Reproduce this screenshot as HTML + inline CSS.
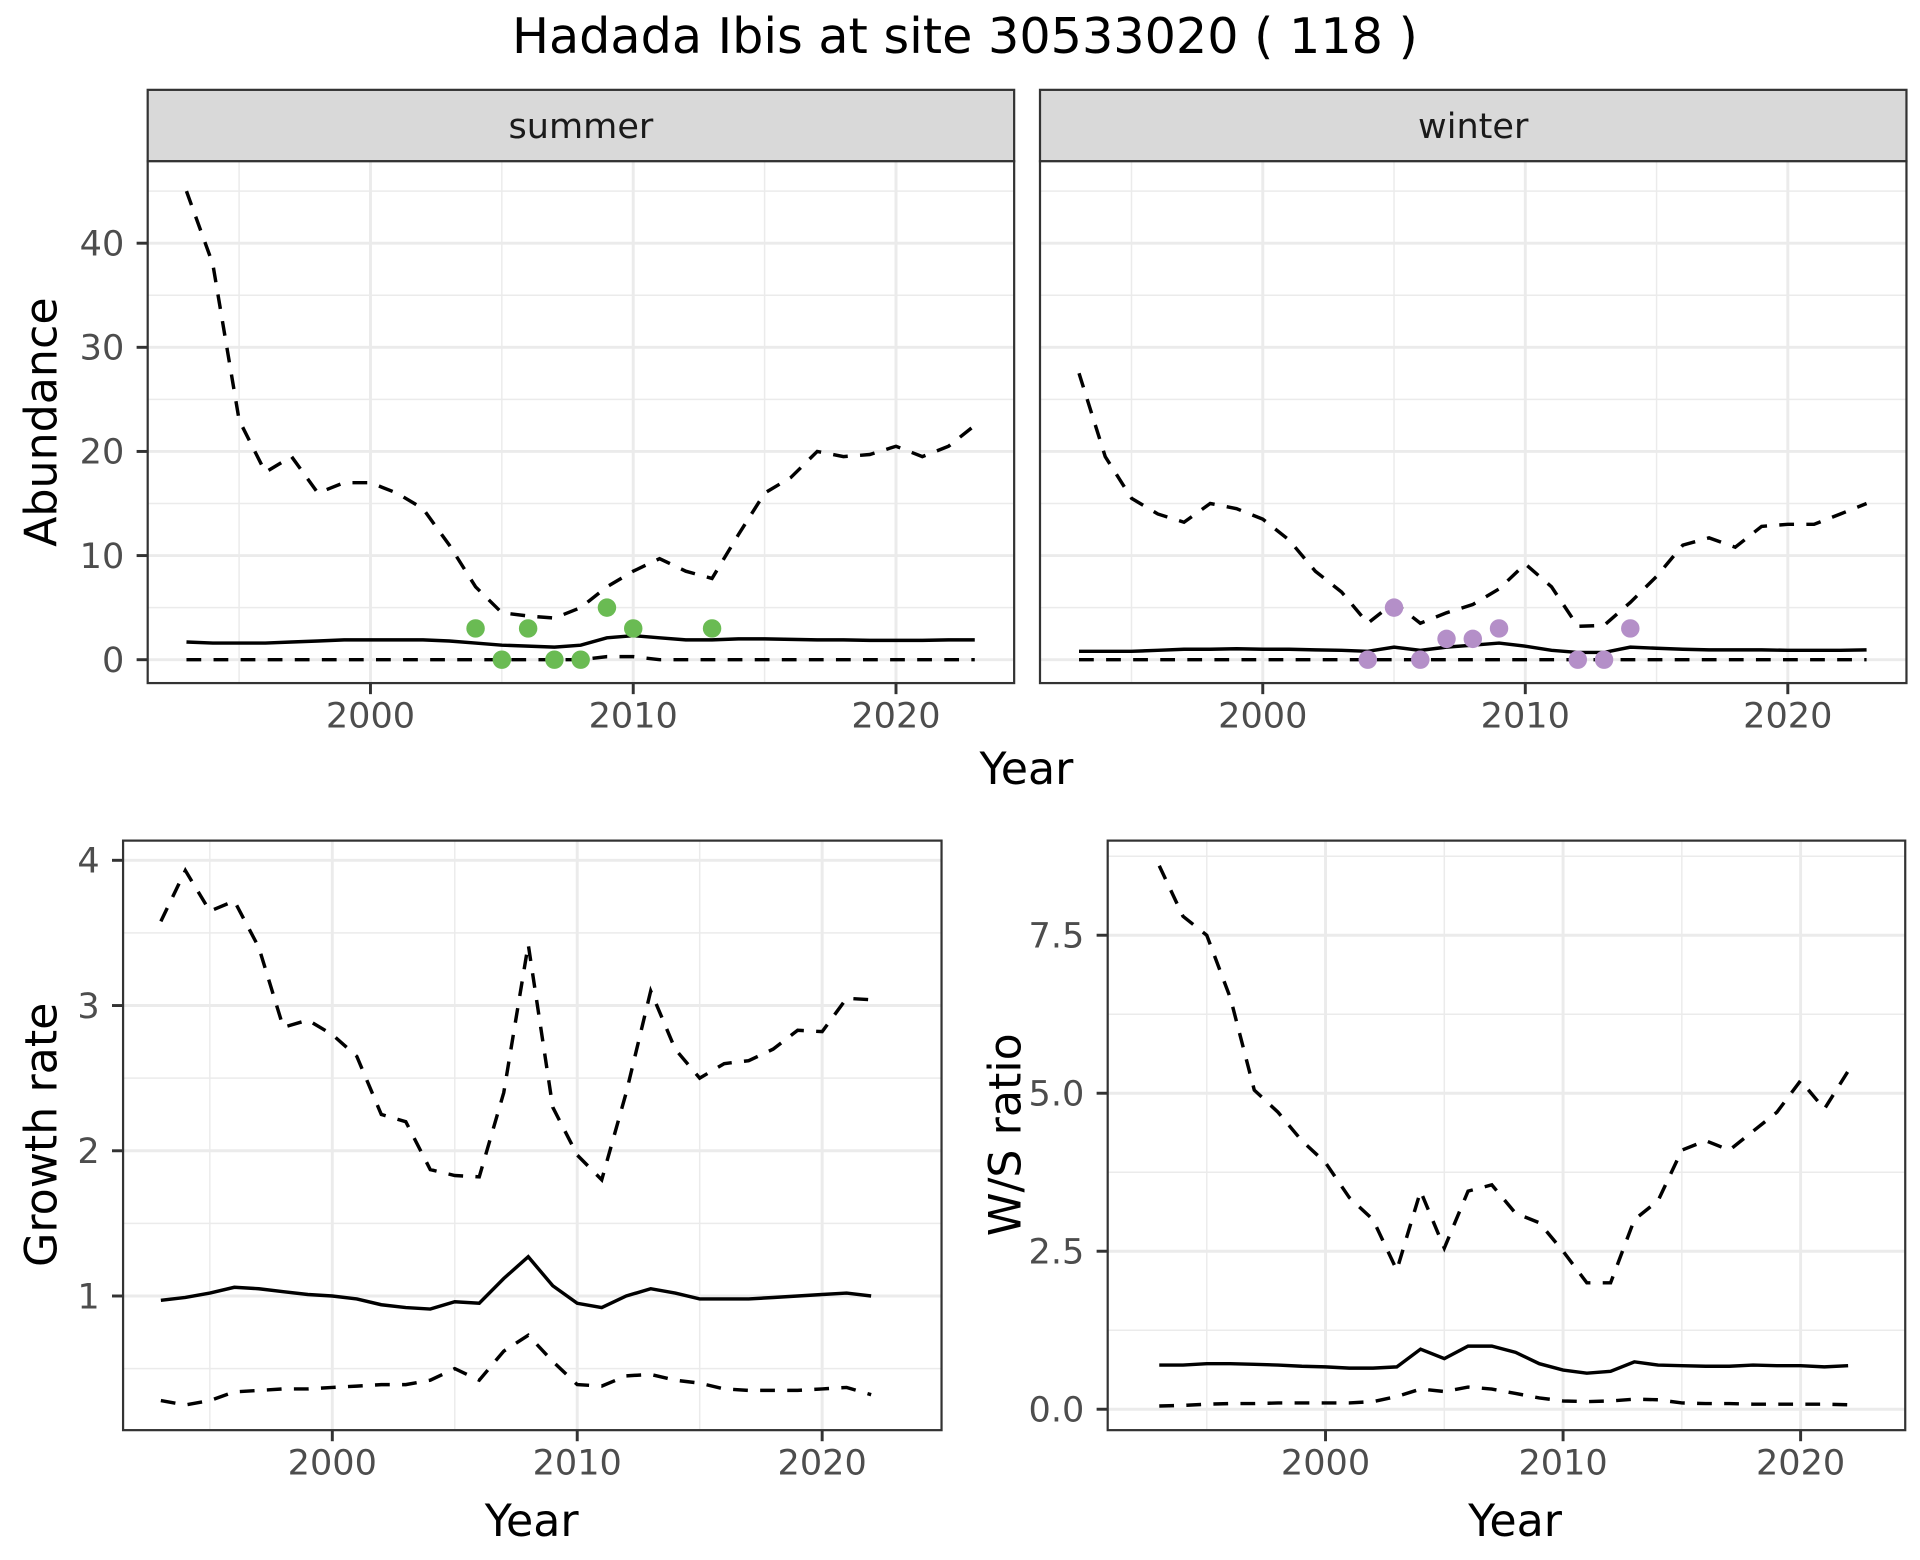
<!DOCTYPE html>
<html><head><meta charset="utf-8"><style>
html,body{margin:0;padding:0;background:#fff;}
svg{display:block;}
text{font-family:"DejaVu Sans","Liberation Sans",sans-serif;}
</style></head><body>
<svg id="s" width="1920" height="1560" viewBox="0 0 1560 1267.5" xmlns="http://www.w3.org/2000/svg"></svg>
<script>
const S=document.getElementById('s');let h='';
function T(x,y,t,sz,anc,fill,rot){h+=`<text x="${x}" y="${y}" font-size="${sz}" text-anchor="${anc||'middle'}" fill="${fill||'#000'}"${rot?` transform="rotate(-90 ${x} ${y})"`:''}>${t}</text>`;}
function L(x1,y1,x2,y2,c,w){h+=`<line x1="${x1}" y1="${y1}" x2="${x2}" y2="${y2}" stroke="${c}" stroke-width="${w}"/>`;}
const TS=28.5, AT=36;
function panel(p){
 const {x0,x1,y0,y1,xf,yf,ymaj,ymin,ylab,showY}=p;
 h+=`<rect x="${x0}" y="${y0}" width="${x1-x0}" height="${y1-y0}" fill="#fff"/>`;
 for(const v of ymin){const y=yf(v);L(x0,y,x1,y,'#ebebeb',1.2);}
 for(const yr of [1995,2005,2015]){const x=xf(yr);L(x,y0,x,y1,'#ebebeb',1.2);}
 for(const v of ymaj){const y=yf(v);L(x0,y,x1,y,'#ebebeb',2.4);}
 for(const yr of [2000,2010,2020]){const x=xf(yr);L(x,y0,x,y1,'#ebebeb',2.4);}
 for(const yr of [2000,2010,2020]){const x=xf(yr);L(x,y1,x,y1+9,'#333',2.4);T(x,y1+36,yr,TS,'middle','#4d4d4d');}
 if(showY){ymaj.forEach((v,i)=>{const y=yf(v);L(x0-9,y,x0,y,'#333',2.4);T(x0-19,y+10,ylab[i],TS,'end','#4d4d4d');});}
 p.draw();
 h+=`<rect x="${x0}" y="${y0}" width="${x1-x0}" height="${y1-y0}" fill="none" stroke="#333" stroke-width="1.8"/>`;
}
function line(d,xf,yf,dash){let pts=d.map((v,i)=>(xf(1993+i)).toFixed(1)+','+yf(v).toFixed(1)).join(' ');h+=`<polyline points="${pts}" fill="none" stroke="#000" stroke-width="2.8"${dash?' stroke-dasharray="12,10"':''}/>`;}
function pts(arr,xf,yf,c){for(const [yr,v] of arr)h+=`<circle cx="${xf(yr)}" cy="${yf(v)}" r="7.5" fill="${c}"/>`;}
const z31=Array(31).fill(0);
const sU=[45,38,23,18,19.5,16,17,17,16,14.5,11,7,4.5,4.2,4,5,7,8.5,9.7,8.5,7.8,12,16,17.5,20,19.5,19.7,20.5,19.5,20.5,22.5];
const sM=[1.7,1.6,1.6,1.6,1.7,1.8,1.9,1.9,1.9,1.9,1.8,1.6,1.4,1.3,1.2,1.4,2.1,2.3,2.1,1.9,1.9,2.0,2.0,1.95,1.9,1.9,1.85,1.85,1.85,1.9,1.9];
const sL=z31.slice();sL[16]=0.3;sL[17]=0.3;
const wU=[27.5,19.5,15.5,14,13.2,15,14.5,13.5,11.5,8.5,6.5,3.5,5.5,3.5,4.5,5.3,6.8,9.2,7,3.2,3.3,5.5,8,11,11.7,10.8,12.8,13,13,14,15];
const wM=[0.8,0.8,0.8,0.9,1,1,1.05,1,1,0.95,0.9,0.8,1.2,0.9,1.2,1.4,1.6,1.3,0.9,0.7,0.7,1.2,1.1,1,0.95,0.95,0.95,0.9,0.9,0.9,0.95];
const yA=v=>536-v*8.46;
const xS=yr=>301+(yr-2000)*21.35, xW=yr=>1026+(yr-2000)*21.33;
for(const [a,b,t] of [[120,824,'summer'],[845,1549,'winter']]){h+=`<rect x="${a}" y="73" width="${b-a}" height="58" fill="#d9d9d9" stroke="#333" stroke-width="1.8"/>`;T((a+b)/2,112,t,28.5,'middle','#1a1a1a');}
panel({x0:120,x1:824,y0:131,y1:555,xf:xS,yf:yA,ymaj:[0,10,20,30,40],ymin:[5,15,25,35,45],ylab:[0,10,20,30,40],showY:true,draw(){line(sU,xS,yA,1);line(sM,xS,yA,0);line(sL,xS,yA,1);pts([[2004,3],[2005,0],[2006,3],[2007,0],[2008,0],[2009,5],[2010,3],[2013,3]],xS,yA,'#6abb53');}});
panel({x0:845,x1:1549,y0:131,y1:555,xf:xW,yf:yA,ymaj:[0,10,20,30,40],ymin:[5,15,25,35,45],ylab:[],showY:false,draw(){line(wU,xW,yA,1);line(wM,xW,yA,0);line(z31,xW,yA,1);pts([[2004,0],[2005,5],[2006,0],[2007,2],[2008,2],[2009,3],[2012,0],[2013,0],[2014,3]],xW,yA,'#b48fc8');}});
T(784,43,'Hadada Ibis at site 30533020 ( 118 )',40);
T(834,637,'Year',AT);
T(46,343,'Abundance',AT,'middle','#000',1);
const gU=[3.58,3.93,3.65,3.72,3.4,2.85,2.9,2.8,2.65,2.25,2.2,1.87,1.83,1.82,2.4,3.42,2.3,1.97,1.8,2.4,3.1,2.7,2.5,2.6,2.62,2.7,2.83,2.82,3.05,3.04];
const gM=[0.97,0.99,1.02,1.06,1.05,1.03,1.01,1.0,0.98,0.94,0.92,0.91,0.96,0.95,1.12,1.27,1.07,0.95,0.92,1.0,1.05,1.02,0.98,0.98,0.98,0.99,1.0,1.01,1.02,1.0];
const gL=[0.28,0.25,0.28,0.34,0.35,0.36,0.36,0.37,0.38,0.39,0.39,0.42,0.5,0.42,0.62,0.73,0.55,0.39,0.38,0.45,0.46,0.42,0.4,0.36,0.35,0.35,0.35,0.36,0.37,0.32];
const xG=yr=>270+(yr-2000)*19.9, yG=v=>1053-(v-1)*118;
panel({x0:100,x1:765,y0:683,y1:1162,xf:xG,yf:yG,ymaj:[1,2,3,4],ymin:[0.5,1.5,2.5,3.5],ylab:[1,2,3,4],showY:true,draw(){line(gU,xG,yG,1);line(gM,xG,yG,0);line(gL,xG,yG,1);}});
T(432,1248,'Year',AT);
T(46,922,'Growth rate',AT,'middle','#000',1);
const rU=[8.6,7.8,7.5,6.5,5.05,4.7,4.25,3.9,3.35,3.0,2.2,3.45,2.55,3.45,3.55,3.1,2.95,2.5,2.0,2.0,3.0,3.3,4.1,4.25,4.1,4.4,4.7,5.2,4.75,5.35];
const rM=[0.7,0.7,0.72,0.72,0.71,0.7,0.68,0.67,0.65,0.65,0.67,0.95,0.8,1.0,1.0,0.9,0.72,0.62,0.57,0.6,0.75,0.7,0.69,0.68,0.68,0.7,0.69,0.69,0.67,0.69];
const rL=[0.05,0.06,0.08,0.09,0.09,0.1,0.1,0.1,0.1,0.12,0.2,0.32,0.28,0.35,0.32,0.25,0.18,0.13,0.12,0.13,0.16,0.15,0.1,0.09,0.09,0.08,0.08,0.08,0.08,0.07];
const xR=yr=>1077+(yr-2000)*19.3, yR=v=>1145-v*51.35;
panel({x0:900,x1:1548,y0:683,y1:1162,xf:xR,yf:yR,ymaj:[0,2.5,5,7.5],ymin:[1.25,3.75,6.25,8.75],ylab:['0.0','2.5','5.0','7.5'],showY:true,draw(){line(rU,xR,yR,1);line(rM,xR,yR,0);line(rL,xR,yR,1);}});
T(1231,1248,'Year',AT);
T(829,922,'W/S ratio',AT,'middle','#000',1);
S.innerHTML=h;
</script>
</body></html>
